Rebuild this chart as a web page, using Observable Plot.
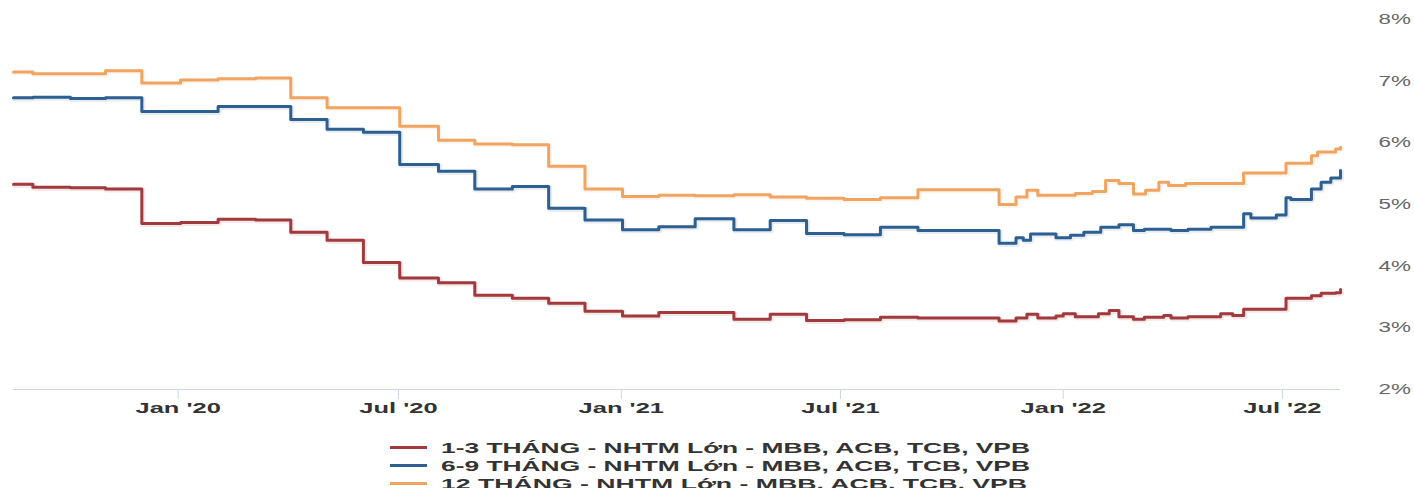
<!DOCTYPE html>
<html>
<head>
<meta charset="utf-8">
<script src="https://cdn.jsdelivr.net/npm/d3@7"></script>
<script src="https://cdn.jsdelivr.net/npm/@observablehq/plot@0.6"></script>
<style>
  html, body { margin: 0; padding: 0; background: #fff; }
  body { width: 1414px; height: 488px; position: relative; overflow: hidden; font-family: "Liberation Sans", Arial, sans-serif; }
  #chart { position: absolute; left: 0; top: 0; }
  #legend { position: absolute; left: 390px; top: 438px; }
  .item { display: flex; align-items: center; height: 18px; }
  .swatch { width: 37px; height: 3px; margin-right: 14px; }
  .label { font-weight: bold; font-size: 15px; color: #333; white-space: nowrap;
           transform-origin: left center; }
</style>
</head>
<body>
<div id="chart"></div>
<div id="legend"></div>
<script>
// Deposit rates (% / year) of the large commercial banks, by term
const seriesNames = [
  "1-3 THÁNG - NHTM Lớn - MBB, ACB, TCB, VPB",
  "6-9 THÁNG - NHTM Lớn - MBB, ACB, TCB, VPB",
  "12 THÁNG - NHTM Lớn - MBB, ACB, TCB, VPB"
];

// [date of change, rate] — each rate holds until the next change
const rate1to3 = [
  ["2019-08-18", 5.33], ["2019-09-03", 5.28], ["2019-10-04", 5.27], ["2019-11-02", 5.25],
  ["2019-12-02", 4.69], ["2020-01-03", 4.71], ["2020-02-03", 4.76], ["2020-03-05", 4.75],
  ["2020-04-03", 4.55], ["2020-05-03", 4.42], ["2020-06-02", 4.06], ["2020-07-02", 3.81],
  ["2020-08-03", 3.73], ["2020-09-02", 3.53], ["2020-10-03", 3.48], ["2020-11-02", 3.40],
  ["2020-12-02", 3.27], ["2021-01-02", 3.19], ["2021-02-01", 3.25], ["2021-04-04", 3.14],
  ["2021-05-04", 3.22], ["2021-06-03", 3.12], ["2021-07-04", 3.13], ["2021-08-03", 3.17],
  ["2021-09-03", 3.16], ["2021-11-09", 3.11], ["2021-11-23", 3.16], ["2021-12-02", 3.22],
  ["2021-12-11", 3.16], ["2021-12-26", 3.19], ["2022-01-01", 3.23], ["2022-01-11", 3.18],
  ["2022-01-30", 3.23], ["2022-02-08", 3.28], ["2022-02-16", 3.18], ["2022-02-28", 3.14],
  ["2022-03-09", 3.17], ["2022-03-25", 3.20], ["2022-03-31", 3.16], ["2022-04-14", 3.18],
  ["2022-05-11", 3.23], ["2022-05-21", 3.20], ["2022-05-30", 3.30], ["2022-07-04", 3.48],
  ["2022-07-25", 3.52], ["2022-08-02", 3.56], ["2022-08-14", 3.57], ["2022-08-18", 3.62]
];

const rate6to9 = [
  ["2019-08-18", 6.73], ["2019-09-03", 6.74], ["2019-10-04", 6.72], ["2019-11-02", 6.73],
  ["2019-12-02", 6.51], ["2020-02-03", 6.59], ["2020-04-03", 6.38], ["2020-05-03", 6.22],
  ["2020-06-02", 6.17], ["2020-07-02", 5.65], ["2020-08-03", 5.54], ["2020-09-02", 5.25],
  ["2020-10-03", 5.29], ["2020-11-02", 4.94], ["2020-12-02", 4.75], ["2021-01-02", 4.59],
  ["2021-02-01", 4.64], ["2021-03-03", 4.77], ["2021-04-04", 4.59], ["2021-05-04", 4.74],
  ["2021-06-03", 4.53], ["2021-07-04", 4.51], ["2021-08-03", 4.63], ["2021-09-03", 4.58],
  ["2021-11-09", 4.37], ["2021-11-23", 4.46], ["2021-11-29", 4.42], ["2021-12-05", 4.52],
  ["2021-12-26", 4.46], ["2022-01-07", 4.50], ["2022-01-18", 4.55], ["2022-02-01", 4.63],
  ["2022-02-16", 4.67], ["2022-02-28", 4.58], ["2022-03-09", 4.60], ["2022-03-31", 4.58],
  ["2022-04-14", 4.60], ["2022-05-03", 4.63], ["2022-05-30", 4.85], ["2022-06-05", 4.78],
  ["2022-06-26", 4.83], ["2022-07-04", 5.11], ["2022-07-08", 5.08], ["2022-07-25", 5.25],
  ["2022-08-02", 5.36], ["2022-08-10", 5.43], ["2022-08-18", 5.55]
];

const rate12 = [
  ["2019-08-18", 7.15], ["2019-09-03", 7.12], ["2019-11-02", 7.17], ["2019-12-02", 6.97],
  ["2020-01-03", 7.02], ["2020-02-03", 7.04], ["2020-03-05", 7.05], ["2020-04-03", 6.73],
  ["2020-05-03", 6.57], ["2020-07-02", 6.27], ["2020-08-03", 6.04], ["2020-09-02", 5.98],
  ["2020-10-03", 5.97], ["2020-11-02", 5.62], ["2020-12-02", 5.25], ["2021-01-02", 5.13],
  ["2021-02-01", 5.15], ["2021-03-03", 5.14], ["2021-04-04", 5.16], ["2021-05-04", 5.12],
  ["2021-06-03", 5.10], ["2021-07-04", 5.08], ["2021-08-03", 5.11], ["2021-09-03", 5.24],
  ["2021-11-09", 5.00], ["2021-11-23", 5.12], ["2021-12-02", 5.23], ["2021-12-11", 5.15],
  ["2022-01-11", 5.18], ["2022-01-25", 5.21], ["2022-02-05", 5.39], ["2022-02-16", 5.34],
  ["2022-02-28", 5.17], ["2022-03-10", 5.23], ["2022-03-21", 5.36], ["2022-03-29", 5.31],
  ["2022-04-12", 5.34], ["2022-05-30", 5.51], ["2022-07-04", 5.67], ["2022-07-25", 5.79],
  ["2022-07-30", 5.85], ["2022-08-14", 5.90], ["2022-08-18", 5.93]
];

const xTickDates = ["2020-01-01", "2020-07-01", "2021-01-01", "2021-07-01", "2022-01-01", "2022-07-01"];
const xTickLabels = ["Jan '20", "Jul '20", "Jan '21", "Jul '21", "Jan '22", "Jul '22"];
const yTicks = [2, 3, 4, 5, 6, 7, 8];

const colors = ["#a13a3d", "#2e5f91", "#efa462"];

const seriesData = [rate1to3, rate6to9, rate12];
const rows = seriesData.flatMap((s, k) =>
  s.map(([d, v]) => ({date: new Date(d + "T00:00:00Z"), rate: v, series: seriesNames[k]}))
);

const chart = Plot.plot({
  className: "rates",
  width: 1414,
  height: 428,
  marginTop: 19,
  marginBottom: 39,
  marginLeft: 13,
  marginRight: 74,
  style: {background: "transparent", fontFamily: "'Liberation Sans', Arial, sans-serif"},
  x: {type: "utc", domain: [new Date("2019-08-18T00:00:00Z"), new Date("2022-08-18T00:00:00Z")]},
  y: {domain: [2, 8]},
  color: {domain: seriesNames, range: colors},
  marks: [
    Plot.ruleY([2], {stroke: "#ccd6eb", strokeWidth: 1}),
    Plot.axisX({
      ticks: xTickDates.map(d => new Date(d + "T00:00:00Z")),
      tickFormat: (d, i) => xTickLabels[i],
      tickSize: 10, tickPadding: 3,
      stroke: "#ccd6eb", fill: "#333",
      fontSize: 15, fontWeight: "bold", label: null
    }),
    Plot.axisY({
      anchor: "right", ticks: yTicks, tickSize: 0, tickPadding: 38,
      tickFormat: d => d + "%", fill: "#666", fontSize: 14, label: null
    }),
    // soft drop shadow under each line
    Plot.line(rows, {
      x: "date", y: "rate", z: "series", stroke: "series",
      curve: "step-after", strokeWidth: 5, strokeOpacity: 0.12, dx: 1, dy: 1
    }),
    Plot.line(rows, {
      x: "date", y: "rate", z: "series", stroke: "series",
      curve: "step-after", strokeWidth: 3, strokeLinejoin: "round"
    })
  ]
});
document.getElementById("chart").append(chart);

// widen the axis lettering horizontally, keeping each label anchored in place
function stretch(selector, factor) {
  chart.querySelectorAll(`[aria-label="${selector}"] text`).forEach(t => {
    const tr = t.getAttribute("transform") || "";
    t.setAttribute("transform", `${tr} scale(${factor},1)`);
  });
}
stretch("x-axis tick label", 1.7);
stretch("y-axis tick label", 1.6);

// legend under the chart
const legend = d3.select("#legend");
seriesNames.forEach((name, k) => {
  const item = legend.append("div").attr("class", "item");
  item.append("div").attr("class", "swatch").style("background", colors[k]);
  item.append("div").attr("class", "label").text(name);
});
legend.selectAll(".label").each(function() {
  const w = this.getBoundingClientRect().width;
  const target = this.textContent.startsWith("12") ? 586 : 589;
  this.style.transform = `scaleX(${target / w})`;
});
</script>
</body>
</html>
